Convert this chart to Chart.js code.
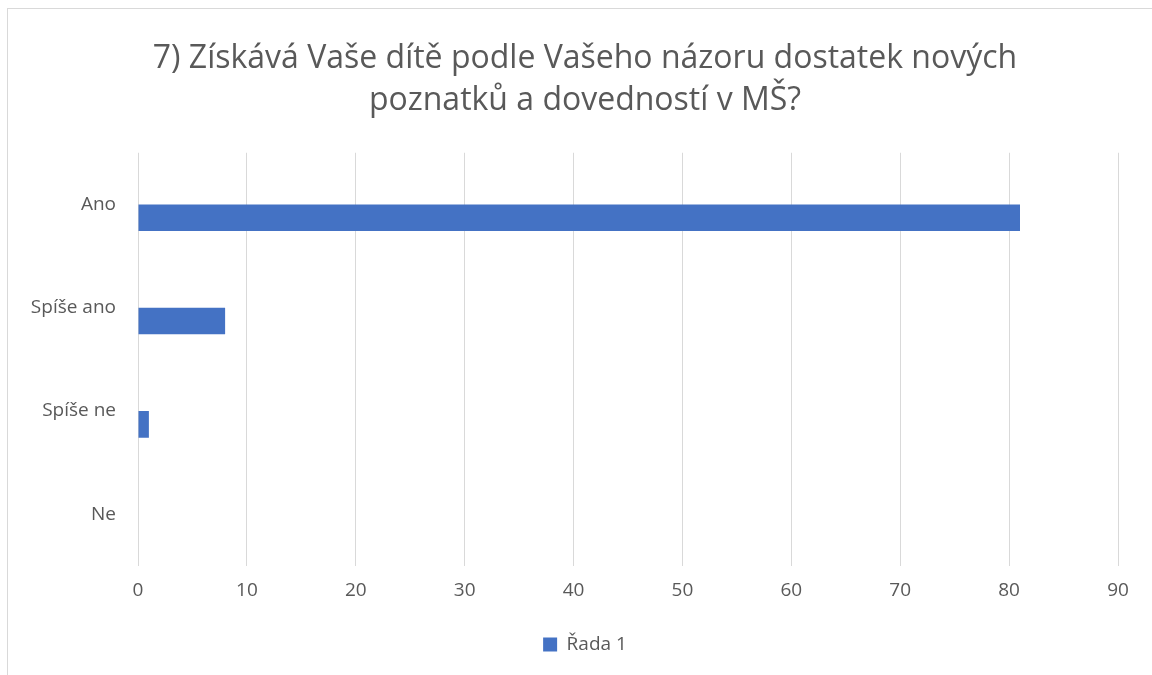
<!DOCTYPE html>
<html>
<head>
<meta charset="utf-8">
<script src="https://cdn.jsdelivr.net/npm/chart.js@4"></script>
<style>
    html, body { margin: 0; padding: 0; background: #ffffff; }
    #wrap { width: 1152px; height: 675px; position: relative; }
</style>
</head>
<body>
<div id="wrap"><canvas id="myChart" width="1152" height="675"></canvas></div>
<script>
// Datos del grafico
var categories = ["Ano", "Spíše ano", "Spíše ne", "Ne"];
var seriesName = "Řada 1";
var seriesValues = [81, 8, 1, 0];
var xMin = 0;
var xMax = 90;
var xStep = 10;
var titleLines = ["7) Získává Vaše dítě podle Vašeho názoru dostatek nových", "poznatků a dovedností v MŠ?"];

var textColor = "#595959";
var gridColor = "#d9d9d9";
var barColor = "#4472c4";

// marco exterior gris (como en Excel)
var outerBorder = {
    id: "outerBorder",
    beforeDraw: function(chart) {
        var ctx = chart.ctx;
        ctx.save();
        ctx.strokeStyle = gridColor;
        ctx.lineWidth = 1;
        ctx.strokeRect(7.5, 8.5, chart.width + 50, chart.height + 50);
        ctx.restore();
    }
};

// centrar titulo y leyenda sobre todo el grafico (no solo sobre el area)
var shiftBlocks = {
    id: "shiftBlocks",
    afterLayout: function(chart) {
        var dx = 17;
        [chart.titleBlock, chart.legend].forEach(function(box) {
            if (box) {
                box.left += dx;
                box.right += dx;
            }
        });
    }
};

const data = {
    labels: categories,
    datasets: [
        {
            // serie vacia para que la barra quede debajo de la etiqueta
            label: "",
            data: categories.map(() => null),
            backgroundColor: "rgba(0,0,0,0)"
        },
        {
            label: seriesName,
            data: seriesValues,
            backgroundColor: barColor,
            borderWidth: 0
        }
    ]
};

const config = {
    type: "bar",
    data: data,
    plugins: [outerBorder, shiftBlocks],
    options: {
        indexAxis: "y",
        responsive: false,
        animation: false,
        categoryPercentage: 0.515,
        barPercentage: 1.0,
        layout: {
            padding: { left: 18, right: 34, top: 20, bottom: 11 }
        },
        scales: {
            x: {
                min: xMin,
                max: xMax,
                ticks: {
                    stepSize: xStep,
                    color: textColor,
                    font: { family: "Open Sans", size: 19 },
                    padding: 13
                },
                grid: {
                    color: gridColor,
                    lineWidth: 1,
                    drawTicks: false
                },
                border: { display: false },
                afterFit: function(scale) {
                    scale.height = 49;
                }
            },
            y: {
                ticks: {
                    color: textColor,
                    font: { family: "Open Sans", size: 19 },
                    padding: 22
                },
                grid: { display: false, drawTicks: false },
                border: { display: false },
                afterFit: function(scale) {
                    scale.width = 120;
                }
            }
        },
        plugins: {
            title: {
                display: true,
                text: titleLines,
                color: textColor,
                font: { family: "Open Sans", size: 32, weight: "normal", lineHeight: 1.34 },
                padding: { top: 17, bottom: 30 }
            },
            legend: {
                display: true,
                position: "bottom",
                labels: {
                    color: textColor,
                    font: { family: "Open Sans", size: 19 },
                    boxWidth: 14,
                    boxHeight: 14,
                    padding: 20,
                    filter: function(item) {
                        return item.datasetIndex === 1;
                    }
                }
            },
            tooltip: { enabled: false }
        }
    }
};

const ctx = document.getElementById("myChart").getContext("2d");
var myChart = new Chart(ctx, config);
</script>
</body>
</html>
